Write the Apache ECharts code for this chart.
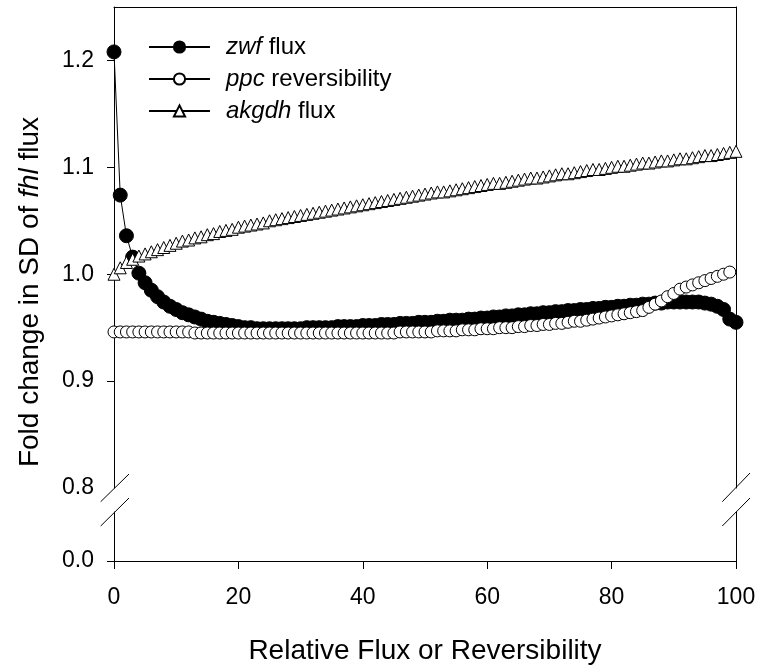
<!DOCTYPE html>
<html>
<head>
<meta charset="utf-8">
<script src="https://cdn.jsdelivr.net/npm/echarts@6/dist/echarts.min.js"></script>
<style>
    html, body { margin: 0; padding: 0; background: #fff; }
    #chart { width: 759px; height: 666px; }
</style>
</head>
<body>
<div id="chart"></div>
<script>
// x positions (relative flux or reversibility)
const xValues = [
    0, 1, 2, 3, 4, 5, 6, 7, 8, 9, 10, 11, 12, 13, 14, 15, 16, 17, 18, 19,
    20, 21, 22, 23, 24, 25, 26, 27, 28, 29, 30, 31, 32, 33, 34, 35, 36, 37, 38, 39,
    40, 41, 42, 43, 44, 45, 46, 47, 48, 49, 50, 51, 52, 53, 54, 55, 56, 57, 58, 59,
    60, 61, 62, 63, 64, 65, 66, 67, 68, 69, 70, 71, 72, 73, 74, 75, 76, 77, 78, 79,
    80, 81, 82, 83, 84, 85, 86, 87, 88, 89, 90, 91, 92, 93, 94, 95, 96, 97, 98, 99, 100
]

// zwf flux
const zwfValues = [
    1.208, 1.074, 1.036, 1.016, 1.001, 0.992, 0.985, 0.979, 0.974, 0.970,
    0.967, 0.964, 0.962, 0.960, 0.958, 0.956, 0.955, 0.954, 0.953, 0.952,
    0.951, 0.950, 0.950, 0.949, 0.949, 0.949, 0.949, 0.949, 0.949, 0.949,
    0.949, 0.950, 0.950, 0.950, 0.950, 0.950, 0.951, 0.951, 0.951, 0.951,
    0.952, 0.952, 0.952, 0.953, 0.953, 0.953, 0.954, 0.954, 0.954, 0.955,
    0.955, 0.955, 0.956, 0.956, 0.957, 0.957, 0.957, 0.958, 0.958, 0.959,
    0.959, 0.960, 0.960, 0.961, 0.961, 0.962, 0.962, 0.963, 0.963, 0.964,
    0.964, 0.965, 0.965, 0.966, 0.966, 0.967, 0.967, 0.968, 0.968, 0.969,
    0.969, 0.970, 0.970, 0.971, 0.971, 0.972, 0.972, 0.973, 0.973, 0.974,
    0.974, 0.974, 0.974, 0.974, 0.974, 0.973, 0.972, 0.970, 0.967, 0.958,
    0.955
]

// ppc reversibility (last point at 99)
const ppcValues = [
    0.946, 0.946, 0.946, 0.946, 0.946, 0.946, 0.946, 0.946, 0.946, 0.946,
    0.946, 0.946, 0.946, 0.945, 0.945, 0.945, 0.945, 0.945, 0.945, 0.945,
    0.945, 0.945, 0.945, 0.945, 0.945, 0.945, 0.945, 0.945, 0.945, 0.945,
    0.945, 0.945, 0.945, 0.945, 0.945, 0.945, 0.945, 0.945, 0.945, 0.945,
    0.945, 0.945, 0.945, 0.945, 0.945, 0.945, 0.946, 0.946, 0.946, 0.946,
    0.946, 0.946, 0.947, 0.947, 0.947, 0.947, 0.948, 0.948, 0.948, 0.949,
    0.949, 0.949, 0.950, 0.950, 0.950, 0.951, 0.951, 0.952, 0.952, 0.953,
    0.953, 0.954, 0.954, 0.955, 0.956, 0.956, 0.957, 0.958, 0.959, 0.960,
    0.961, 0.962, 0.963, 0.964, 0.965, 0.966, 0.969, 0.972, 0.975, 0.979,
    0.982, 0.986, 0.988, 0.990, 0.992, 0.994, 0.996, 0.998, 1.000, 1.002
]

// akgdh flux
const akgdhValues = [
    1.000, 1.006, 1.011, 1.014, 1.017, 1.019, 1.021, 1.023, 1.025, 1.027,
    1.029, 1.031, 1.032, 1.034, 1.035, 1.037, 1.038, 1.040, 1.041, 1.042,
    1.044, 1.045, 1.046, 1.047, 1.048, 1.050, 1.051, 1.052, 1.053, 1.054,
    1.055, 1.056, 1.057, 1.058, 1.059, 1.060, 1.061, 1.062, 1.063, 1.064,
    1.065, 1.066, 1.067, 1.068, 1.069, 1.070, 1.071, 1.072, 1.073, 1.074,
    1.075, 1.076, 1.077, 1.077, 1.078, 1.079, 1.080, 1.081, 1.082, 1.083,
    1.084, 1.085, 1.085, 1.086, 1.087, 1.088, 1.089, 1.090, 1.090, 1.091,
    1.092, 1.093, 1.094, 1.094, 1.095, 1.096, 1.097, 1.098, 1.098, 1.099,
    1.100, 1.101, 1.101, 1.102, 1.103, 1.104, 1.104, 1.105, 1.106, 1.106,
    1.107, 1.108, 1.108, 1.109, 1.110, 1.111, 1.111, 1.112, 1.113, 1.114,
    1.115
]

const xTicks = [0, 20, 40, 60, 80, 100]
const yTicksUpper = [0.9, 1.0, 1.1, 1.2]
const yLabelsUpper = [0.8, 0.9, 1.0, 1.1, 1.2]
const yTicksLower = [0]

const FONT = 'Arial, "Liberation Sans", sans-serif'
const BLACK = '#000'

const pairs = (ys) => ys.map((y, i) => [xValues[i], y])

const chart = echarts.init(document.getElementById('chart'), null, { renderer: 'canvas' })

const lineOnly = {
    axisLine: { show: true, lineStyle: { color: BLACK, width: 1 } },
    axisTick: { show: false },
    axisLabel: { show: false },
    splitLine: { show: false }
}

// axis break marks
const breakLines = [
    [100.7, 501.7, 129, 474], [100.7, 526, 129, 498],
    [722.3, 501.7, 750, 473], [722.3, 526, 750, 498]
].map(p => ({
    type: 'line',
    shape: { x1: p[0], y1: p[1], x2: p[2], y2: p[3] },
    style: { stroke: BLACK, lineWidth: 1 },
    z: 100
}))

chart.setOption({
    backgroundColor: '#fff',
    animation: false,
    textStyle: { fontFamily: FONT, color: BLACK },
    grid: [
        { left: 114, right: 23, top: 7, height: 481 },
        { left: 114, right: 23, top: 512, height: 50 }
    ],
    xAxis: [
        {
            gridIndex: 0, type: 'value', min: 0, max: 100, position: 'top',
            ...lineOnly
        },
        {
            gridIndex: 1, type: 'value', min: 0, max: 100, interval: 20, position: 'bottom',
            axisLine: { show: true, lineStyle: { color: BLACK, width: 1 } },
            axisTick: { show: true, inside: false, length: 8, lineStyle: { color: BLACK }, customValues: xTicks },
            axisLabel: { show: true, margin: 25, fontSize: 23, color: BLACK, fontFamily: FONT, customValues: xTicks },
            splitLine: { show: false },
            name: 'Relative Flux or Reversibility',
            nameLocation: 'middle',
            nameGap: 76,
            nameTextStyle: { fontSize: 28, color: BLACK, fontFamily: FONT }
        }
    ],
    yAxis: [
        {
            gridIndex: 0, type: 'value', min: 0.8, max: 1.25, position: 'left',
            axisLine: { show: true, lineStyle: { color: BLACK, width: 1 } },
            axisTick: { show: true, length: 7, lineStyle: { color: BLACK }, customValues: yTicksUpper },
            axisLabel: {
                show: true, margin: 20, fontSize: 23, color: BLACK, fontFamily: FONT,
                customValues: yLabelsUpper,
                formatter: v => v.toFixed(1)
            },
            splitLine: { show: false }
        },
        { gridIndex: 0, type: 'value', min: 0.8, max: 1.25, position: 'right', ...lineOnly },
        {
            gridIndex: 1, type: 'value', min: 0, max: 0.1, position: 'left',
            axisLine: { show: true, lineStyle: { color: BLACK, width: 1 } },
            axisTick: { show: true, length: 7, lineStyle: { color: BLACK }, customValues: yTicksLower },
            axisLabel: {
                show: true, margin: 20, fontSize: 23, color: BLACK, fontFamily: FONT,
                customValues: yTicksLower,
                formatter: v => v.toFixed(1)
            },
            splitLine: { show: false }
        },
        { gridIndex: 1, type: 'value', min: 0, max: 0.1, position: 'right', ...lineOnly }
    ],
    legend: {
        orient: 'vertical',
        left: 148,
        top: 35,
        padding: 0,
        itemGap: 8,
        itemWidth: 61,
        itemHeight: 14,
        data: ['zwf flux', 'ppc reversibility', 'akgdh flux'],
        formatter: name => {
            const parts = name.split(' ')
            return '{i|' + parts[0] + '} {n|' + parts.slice(1).join(' ') + '}'
        },
        textStyle: {
            fontSize: 24, fontFamily: FONT, color: BLACK, padding: [0, 0, 0, 11],
            rich: {
                i: { fontSize: 24, fontFamily: FONT, fontStyle: 'italic', color: BLACK, lineHeight: 24 },
                n: { fontSize: 24, fontFamily: FONT, color: BLACK, lineHeight: 24 }
            }
        }
    },
    graphic: [
        {
            type: 'text',
            x: 30,
            y: 292,
            rotation: Math.PI / 2,
            style: {
                text: 'Fold change in SD of {i|fhl} flux',
                fontSize: 28,
                fontFamily: FONT,
                fill: BLACK,
                align: 'center',
                verticalAlign: 'middle',
                textAlign: 'center',
                textVerticalAlign: 'middle',
                rich: {
                    i: { fontSize: 28, fontFamily: FONT, fontStyle: 'italic', fill: BLACK }
                }
            }
        },
        ...breakLines
    ],
    series: [
        {
            name: 'zwf flux',
            type: 'line',
            xAxisIndex: 0,
            yAxisIndex: 0,
            data: pairs(zwfValues),
            symbol: 'circle',
            symbolSize: 14,
            lineStyle: { color: BLACK, width: 1 },
            itemStyle: { color: BLACK, borderColor: BLACK, borderWidth: 1 }
        },
        {
            name: 'ppc reversibility',
            type: 'line',
            xAxisIndex: 0,
            yAxisIndex: 0,
            data: pairs(ppcValues),
            symbol: 'circle',
            symbolSize: 12,
            lineStyle: { color: BLACK, width: 1 },
            itemStyle: { color: '#fff', borderColor: BLACK, borderWidth: 1 }
        },
        {
            name: 'akgdh flux',
            type: 'line',
            xAxisIndex: 0,
            yAxisIndex: 0,
            data: pairs(akgdhValues),
            symbol: 'triangle',
            symbolSize: 12,
            lineStyle: { color: BLACK, width: 1 },
            itemStyle: { color: '#fff', borderColor: BLACK, borderWidth: 1 }
        }
    ]
})
</script>
</body>
</html>
